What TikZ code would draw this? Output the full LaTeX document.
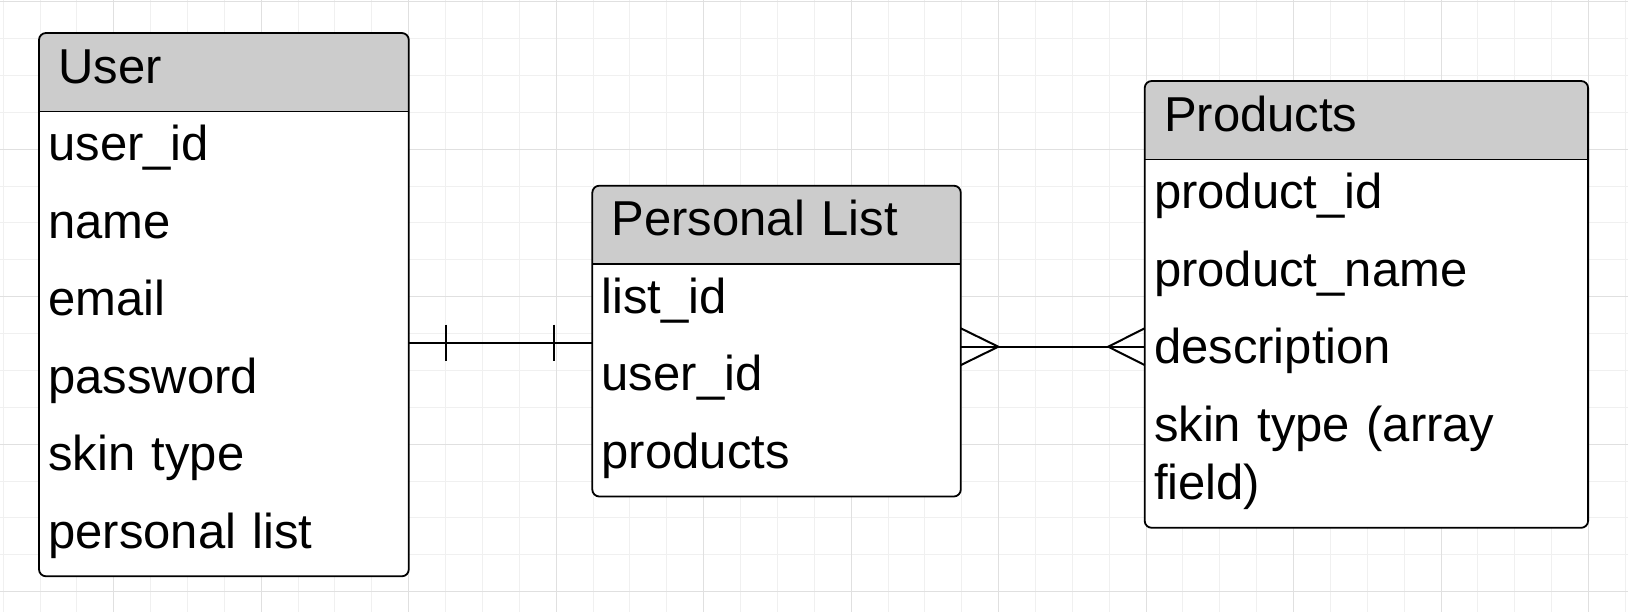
\documentclass[tikz,border=0pt]{standalone}
\usepackage{fontspec}
\setmainfont{Liberation Sans}
\usetikzlibrary{matrix,backgrounds,calc}

\begin{document}
\begin{tikzpicture}[x=0.5pt,y=-0.5pt,font=\fontsize{24.5}{29}\selectfont,
entity/.style={matrix of nodes,anchor=north west,inner sep=0pt,row sep=0pt,
  nodes={anchor=west,align=left,text width=#1,inner xsep=4.5pt,inner ysep=2.5pt,
    text height=22.35pt,text depth=11.4pt},
  row 1/.style={nodes={execute at begin node=\hspace*{5pt}}}},
frame/.style={draw=black,line width=0.9pt,rounded corners=3.5pt},
header/.style={fill=gray!40},
minor/.style={draw=gray!12,line width=0.5pt},
major/.style={draw=gray!24,line width=0.5pt},
link/.style={draw=black,line width=1pt}]
\useasboundingbox (0,0) rectangle (1628,612);
\matrix[entity=175.5pt] (user) at (39,33) {
User\\
user\_id\\
name\\
email\\
password\\
skin type\\
personal list\\};
\matrix[entity=174.85pt] (plist) at (592.3,185.7) {
Personal List\\
list\_id\\
user\_id\\
products\\};
\matrix[entity=212.3pt,row 5/.style={nodes={text depth=40.65pt}}] (prod) at (1144.7,81) {
Products\\
product\_id\\
product\_name\\
description\\
skin type (array field)\\};
\begin{scope}[on background layer]
\foreach \i in {0,...,44} \draw[minor] (3.13+36.87*\i,0) -- ++(0,612);
\foreach \j in {0,...,16} \draw[minor] (0,1.7+36.87*\j) -- ++(1628,0);
\foreach \i in {3,7,...,43} \draw[major] (3.13+36.87*\i,0) -- ++(0,612);
\foreach \j in {0,4,...,16} \draw[major] (0,1.7+36.87*\j) -- ++(1628,0);
\foreach \t/\n in {user/7,plist/4,prod/5}{
  \fill[white,rounded corners=3.5pt] (\t-1-1.north west) rectangle (\t-\n-1.south east);
  \begin{scope}
    \clip[rounded corners=3.5pt] (\t-1-1.north west) rectangle (\t-\n-1.south east);
    \fill[header] (\t-1-1.north west) rectangle (\t-1-1.south east);
  \end{scope}
}
\end{scope}
\foreach \t/\n in {user/7,plist/4,prod/5}{
  \draw[frame] (\t-1-1.north west) rectangle (\t-\n-1.south east);
  \draw[line width=0.7pt] (\t-1-1.south west) -- (\t-1-1.south east);
}
\coordinate (user-r) at (user-2-1.east |- 0,342.7);
\coordinate (plist-l) at (plist-2-1.west |- 0,342.7);
\coordinate (plist-r) at (plist-2-1.east |- 0,346.7);
\coordinate (prod-l) at (prod-2-1.west |- 0,346.7);
\draw[link] (user-r) -- (plist-l);
\draw[link] ($(user-r)+(37,-18)$) -- ++(0,36);
\draw[link] ($(plist-l)+(-38,-18)$) -- ++(0,36);
\draw[link] (plist-r) -- (prod-l);
\draw[link] ($(plist-r)+(0,-18.4)$) -- ($(plist-r)+(37.5,0)$) -- ($(plist-r)+(0,18.4)$);
\draw[link] ($(prod-l)+(0,-18.4)$) -- ($(prod-l)+(-36.5,0)$) -- ($(prod-l)+(0,18.4)$);
\end{tikzpicture}
\end{document}
